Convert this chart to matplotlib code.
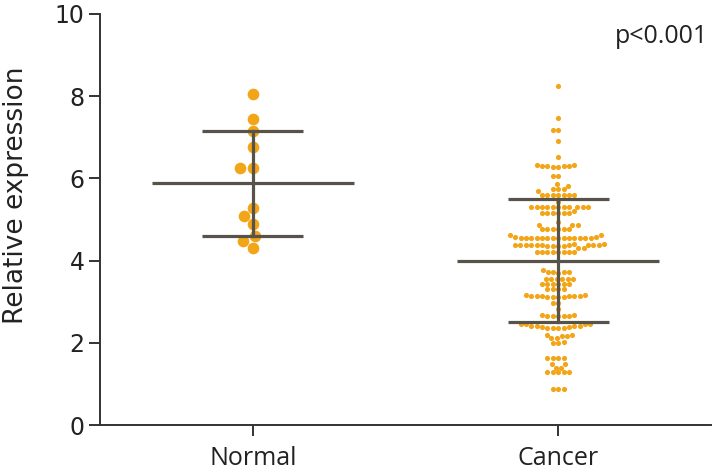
import numpy as np
import pandas as pd
import matplotlib
matplotlib.use("Agg")
import matplotlib.pyplot as plt
import seaborn as sns

# values
groups = ["Normal", "Cancer"]
normal_values = [8.05, 7.44, 7.15, 6.76, 6.26, 6.26, 5.28, 5.08, 4.89, 4.59, 4.48, 4.31]
cancer_values = [
    8.26, 7.46, 7.18, 7.18, 6.92, 6.51,
    6.32, 6.30, 6.29, 6.28, 6.28, 6.29, 6.30, 6.32,
    6.07, 6.07, 5.86, 5.82, 5.74, 5.74, 5.74,
    5.69, 5.60, 5.60, 5.60, 5.60, 5.60, 5.60, 5.60,
    5.43,
    5.30, 5.30, 5.30, 5.30, 5.30, 5.30, 5.30, 5.30, 5.30, 5.30, 5.30,
    5.20, 5.15, 5.15, 5.15, 5.15, 5.15, 5.15,
    4.93, 4.86, 4.86, 4.86,
    4.76, 4.76, 4.76, 4.76, 4.76, 4.76,
    4.62, 4.62,
    4.58, 4.56, 4.55, 4.55, 4.55, 4.55, 4.54, 4.54, 4.54, 4.54, 4.55, 4.55, 4.55, 4.55, 4.56, 4.58,
    4.40, 4.37, 4.37, 4.37, 4.37, 4.37, 4.36, 4.36, 4.36, 4.36, 4.37, 4.37, 4.37, 4.37, 4.37, 4.40,
    4.30, 4.30,
    4.21, 4.21, 4.21, 4.20, 4.20, 4.21, 4.21, 4.22,
    3.77, 3.72, 3.72, 3.72, 3.72, 3.70,
    3.55, 3.55, 3.55, 3.55, 3.55, 3.55,
    3.43, 3.43, 3.43, 3.43, 3.43, 3.43,
    3.30, 3.30, 3.30, 3.30,
    3.16, 3.15, 3.14, 3.13, 3.12, 3.12, 3.12, 3.12, 3.13, 3.14, 3.15, 3.16,
    2.97, 2.97, 2.83,
    2.68, 2.66, 2.65, 2.65, 2.65, 2.65, 2.68,
    2.46, 2.46, 2.42, 2.40, 2.38, 2.37, 2.37, 2.37, 2.37, 2.38, 2.40, 2.42, 2.46, 2.46,
    2.20, 2.20, 2.17, 2.17, 2.12, 2.12, 2.00, 2.00, 2.02,
    1.64, 1.64, 1.64, 1.64, 1.48, 1.48, 1.39, 1.39,
    1.28, 1.28, 1.28, 1.28, 1.30,
    0.87, 0.87, 0.87,
]
means = [5.88, 4.00]
sds = [1.27, 1.50]
p_text = "p<0.001"

dot_color = "#F2A516"
line_color = "#57534A"
text_color = "#222222"

fig = plt.figure(figsize=(7.15, 4.73), dpi=100)
ax = fig.add_axes([100 / 715, 48 / 473, 611 / 715, 411 / 473])

df_n = pd.DataFrame({"group": "Normal", "value": normal_values})
df_c = pd.DataFrame({"group": "Cancer", "value": cancer_values})

sns.swarmplot(data=df_n, x="group", y="value", order=groups, size=8.4,
              color=dot_color, linewidth=0, ax=ax, zorder=2)
ax.collections[-1].set_sizes([5.8 ** 2])
sns.swarmplot(data=df_c, x="group", y="value", order=groups, size=4.3,
              color=dot_color, linewidth=0, ax=ax, zorder=2)
ax.collections[-1].set_sizes([3.7 ** 2])

# mean and SD bars
for i, (m, s) in enumerate(zip(means, sds)):
    ax.plot([i - 0.33, i + 0.33], [m, m], color=line_color, lw=2.3, zorder=3,
            solid_capstyle="butt")
    ax.plot([i - 0.165, i + 0.165], [m + s, m + s], color=line_color, lw=2.3,
            zorder=3, solid_capstyle="butt")
    ax.plot([i - 0.165, i + 0.165], [m - s, m - s], color=line_color, lw=2.3,
            zorder=3, solid_capstyle="butt")
    ax.plot([i, i], [m - s, m + s], color=line_color, lw=2.3, zorder=3)

ax.set_xlim(-0.5, 1.5)
ax.set_ylim(0, 10)
ax.set_yticks([0, 2, 4, 6, 8, 10])
ax.set_xticks([0, 1])
ax.set_xticklabels(groups, fontsize=18, family="Open Sans", color=text_color)
for lab in ax.get_yticklabels():
    lab.set_fontsize(17)
    lab.set_family("DejaVu Sans")
    lab.set_color(text_color)
ax.set_xlabel("")
ax.set_ylabel("Relative expression", fontsize=19, family="DejaVu Sans",
              color=text_color)
ax.yaxis.set_label_coords(-0.116, 0.56)

for side in ["top", "right"]:
    ax.spines[side].set_visible(False)
for side in ["left", "bottom"]:
    ax.spines[side].set_color("#333333")
    ax.spines[side].set_linewidth(1.4)
ax.tick_params(axis="both", direction="out", length=8, width=1.4, color="#333333")
ax.tick_params(axis="y", pad=3)
ax.tick_params(axis="x", pad=7)

ax.text(0.995, 0.975, p_text, transform=ax.transAxes, ha="right", va="top",
        fontsize=18, family="Open Sans", color=text_color)

fig.savefig("out.png", dpi=100)
